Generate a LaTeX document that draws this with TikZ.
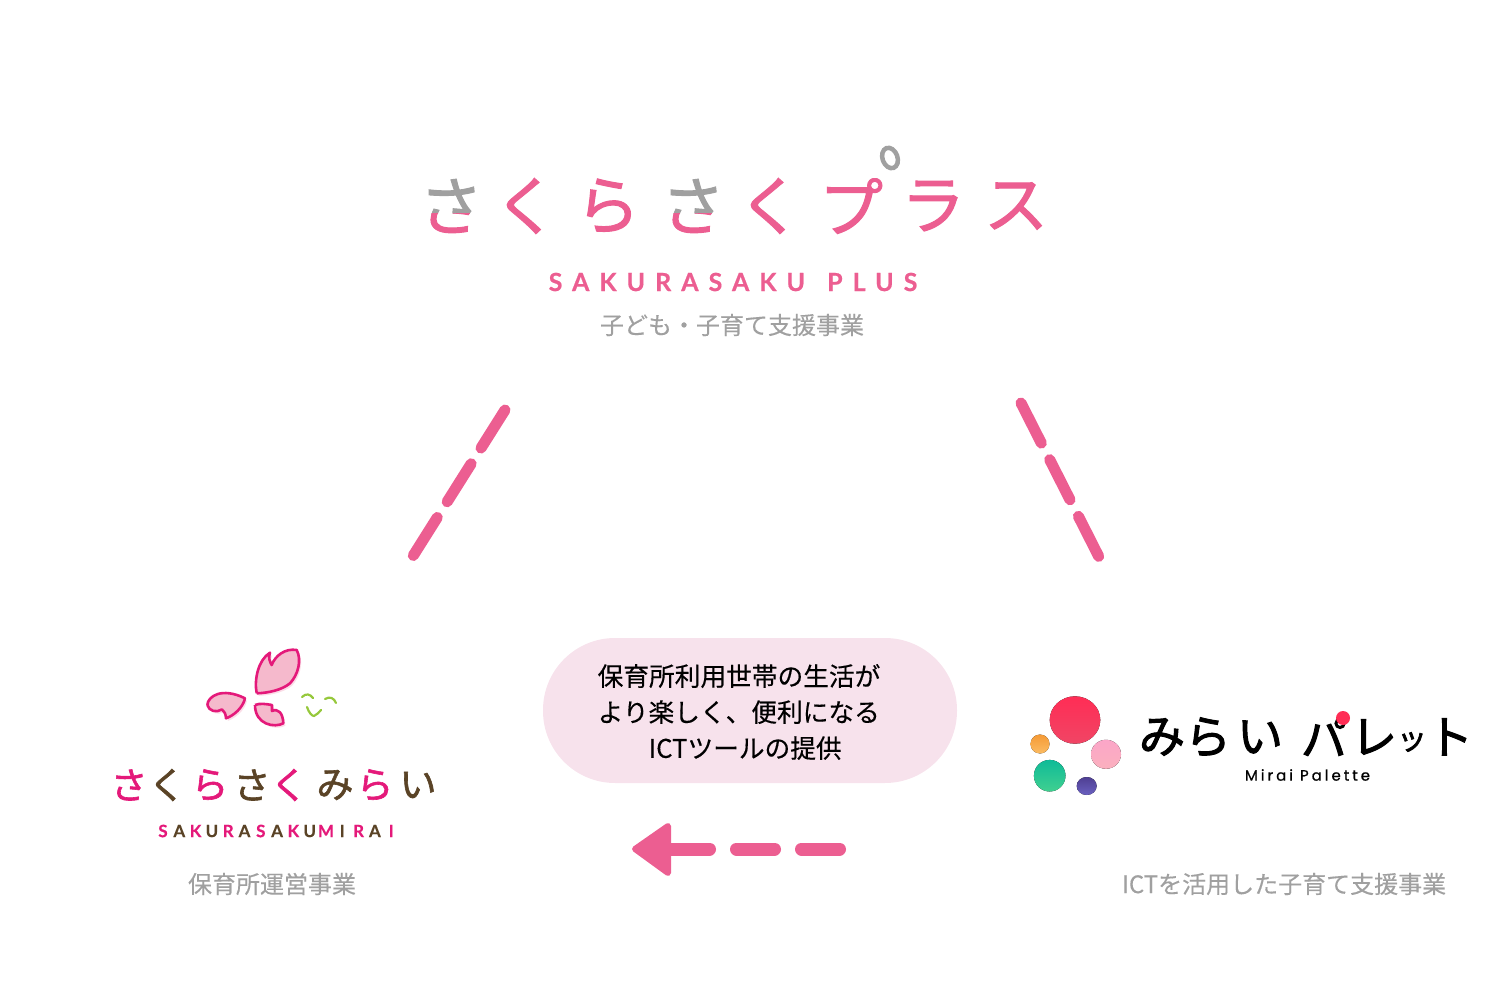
\documentclass[tikz,border=0pt]{standalone}
\usepackage{fontspec}
\setmainfont[FakeBold=0.3]{Noto Sans CJK JP}
\newfontfamily\logofont[FakeBold=1.6]{Noto Sans CJK JP}
\newfontfamily\palfont[FakeBold=2.2]{Noto Sans CJK JP}
\newfontfamily\plusfont[LetterSpace=40,FakeBold=0.6]{Lato}
\newfontfamily\mirfont[FakeBold=0.4]{Lato}
\newfontfamily\paletfont[LetterSpace=20,FakeBold=0.8]{Poppins}
\definecolor{pluspink}{HTML}{EC5E91}
\definecolor{plusgray}{HTML}{A0A0A0}
\definecolor{mirpink}{HTML}{E4197A}
\definecolor{mirbrown}{HTML}{5A4326}
\definecolor{petal}{HTML}{F5B9CC}
\definecolor{petalback}{HTML}{FBDDE7}
\definecolor{pillpink}{HTML}{F7E2EC}
\definecolor{sprout}{HTML}{96C83C}
\definecolor{redtop}{HTML}{FF2D55}
\definecolor{redlow}{HTML}{F04565}
\definecolor{orangetop}{HTML}{F59A35}
\definecolor{orangelow}{HTML}{FBBB62}
\definecolor{rosetop}{HTML}{FBA6C8}
\definecolor{roselow}{HTML}{FBB0BE}
\definecolor{greentop}{HTML}{0FBB98}
\definecolor{greenlow}{HTML}{40D090}
\definecolor{violettop}{HTML}{4F3F92}
\definecolor{violetlow}{HTML}{6A60C0}
\newcommand{\bigpetal}{(256.7,693.3) .. controls (254,680) and (258,660) .. (270,652.7) .. controls (268,658) and (270,662) .. (271.7,665) .. controls (275,656) and (285,648) .. (296.7,650) .. controls (302,660) and (298,675) .. (290,683.3) .. controls (282,690) and (268,693) .. (256.7,693.3)}
\newcommand{\leftpetal}{(207.3,705) .. controls (208,696) and (222,687) .. (245,698.3) .. controls (243,708) and (233,716) .. (226,718.3) .. controls (226,714) and (224,711) .. (222,709.5) .. controls (216,713) and (209,711) .. (207.3,705)}
\newcommand{\lowpetal}{(255,705) .. controls (260,703) and (266,704) .. (272,705) .. controls (272,707) and (272,709) .. (272,711) .. controls (278,708) and (283,713) .. (283.3,723.3) .. controls (275,728) and (255,725) .. (255,705)}
\tikzset{
    caption/.style={text=plusgray, font=\fontsize{24}{24}\selectfont, inner sep=0pt},
    pluschar/.style={text=pluspink, font=\fontsize{64}{64}\selectfont\logofont, inner sep=0pt},
    mirchar/.style={font=\fontsize{37}{37}\selectfont\logofont, inner sep=0pt},
    mirletter/.style={font=\fontsize{17}{17}\selectfont\bfseries\mirfont, inner sep=0pt},
    palchar/.style={font=\fontsize{#1}{#1}\selectfont\palfont, inner sep=0pt},
    dashline/.style={pluspink, line width=11pt, line cap=round, dash pattern=on 45pt off 18.5pt},
    petalshape/.style={fill=petal, draw=mirpink, line width=2.6pt, line join=round},
    sprig/.style={draw=sprout, line width=2.2pt, line cap=round},
}
\begin{document}
\begin{tikzpicture}[x=1pt, y=-1pt]
\useasboundingbox (0,0) rectangle (1500,1000);

\foreach \x/\c/\n in {526/く/b, 608/ら/c, 770/く/e, 933/ラ/g, 1016/ス/h}
{
    \node[pluschar] (plus\n) at (\x,206) {\c};
}
\foreach \x/\n in {451/a, 693/d}
{
    \begin{scope}
    \clip (\x-40,160) rectangle (\x+40,214);
    \node[pluschar, text=plusgray] (plustop\n) at (\x,206) {さ};
    \end{scope}
    \begin{scope}
    \clip (\x-40,214) rectangle (\x+40,250);
    \node[pluschar] (plus\n) at (\x,206) {さ};
    \end{scope}
}
\begin{scope}
\clip (810,179) rectangle (885,250);
\node[pluschar] (plusf) at (851,206) {プ};
\end{scope}
\draw[plusgray, line width=4.5pt, rotate around={20:(890,158)}] (890,158) ellipse [x radius=7.5, y radius=10.5];
\node[text=pluspink, font=\fontsize{25}{25}\selectfont\bfseries\plusfont, inner sep=0pt] (plusname) at (733,282) {SAKURASAKU\hspace{6pt} PLUS};
\node[caption] (pluscap) at (732,325) {子ども・子育て支援事業};

\coordinate (leftup) at (505,410);
\coordinate (leftdown) at (413,556);
\coordinate (rightup) at (1021,403);
\coordinate (rightdown) at (1099,557);
\draw[dashline] (leftup)--(leftdown);
\draw[dashline] (rightup)--(rightdown);

\node[fill=pillpink, rounded corners=72pt, minimum width=414pt, minimum height=145pt, inner sep=0pt] (pill) at (750,710.5) {};
\node[align=left, font=\fontsize{25.7}{36}\selectfont, inner sep=0pt] (pilltext) at (739,712) {保育所利用世帯の生活が\\より楽しく、便利になる\\\hspace*{51pt}ICTツールの提供};

\coordinate (arrowstart) at (839.5,849);
\coordinate (arrowend) at (672,849);
\draw[pluspink, line width=13pt, line cap=round, dash pattern=on 38pt off 27pt] (arrowstart)--(arrowend);
\filldraw[pluspink, line width=6pt, line join=round] (635,849)--(668,826)--(668,873)--cycle;

% flower
\fill[petalback, shift={(2,2.5)}] \bigpetal;
\fill[petalback, shift={(2,2.5)}] \leftpetal;
\fill[petalback, shift={(2,2.5)}] \lowpetal;
\filldraw[petalshape] \bigpetal;
\filldraw[petalshape] \leftpetal;
\filldraw[petalshape] \lowpetal;
\draw[sprig] (302,697) .. controls (306,693) and (310,694) .. (313,698);
\draw[sprig] (325,699) .. controls (330,696) and (334,698) .. (336,703);
\draw[sprig] (307,707) .. controls (309,713) and (312,716) .. (314,716) .. controls (317,715) and (319,712) .. (321,710);

\foreach \x/\c/\k/\n in {129/さ/mirpink/a, 167/く/mirbrown/b, 210/ら/mirpink/c, 252/さ/mirbrown/d, 289/く/mirpink/e, 335/み/mirbrown/f, 375/ら/mirpink/g, 418/い/mirbrown/h}
{
    \node[mirchar, text=\k] (mir\n) at (\x,785) {\c};
}
\foreach \i/\c/\k in {0/S/mirpink, 1/A/mirbrown, 2/K/mirpink, 3/U/mirbrown, 4/R/mirpink, 5/A/mirbrown, 6/S/mirpink, 7/A/mirbrown, 8/K/mirpink, 9/U/mirbrown, 10/M/mirpink, 11/I/mirbrown, 12/R/mirpink, 13/A/mirbrown, 14/I/mirpink}
{
    \node[mirletter, text=\k] (letter\i) at (163+\i*16.3,831) {\c};
}
\node[caption] (mircap) at (272,884) {保育所運営事業};

% palette
\fill[top color=redtop, bottom color=redlow] (1075,720) ellipse [x radius=25.3, y radius=23.7];
\fill[top color=orangetop, bottom color=orangelow] (1040,744) circle [radius=9.5];
\fill[top color=rosetop, bottom color=roselow] (1106,754.3) ellipse [x radius=15, y radius=14.5];
\fill[top color=greentop, bottom color=greenlow] (1049.7,775.7) circle [radius=15.8];
\fill[top color=violettop, bottom color=violetlow] (1086.7,786) ellipse [x radius=10, y radius=9];
\foreach \x/\y/\s/\c/\n in {1162/737/46/み/a, 1208/737/46/ら/b, 1260/737/46/い/c, 1324/737/46/パ/d, 1374/737/46/レ/e, 1412/742/30/ッ/f, 1450/737/46/ト/g}
{
    \node[palchar=\s] (pal\n) at (\x,\y) {\c};
}
\fill[redtop] (1343,718) circle [radius=7];
\node[font=\fontsize{15}{15}\selectfont\paletfont, inner sep=0pt] (palsub) at (1307.5,775) {Mirai Palette};
\node[caption] (palcap) at (1284,884) {ICTを活用した子育て支援事業};
\end{tikzpicture}
\end{document}
